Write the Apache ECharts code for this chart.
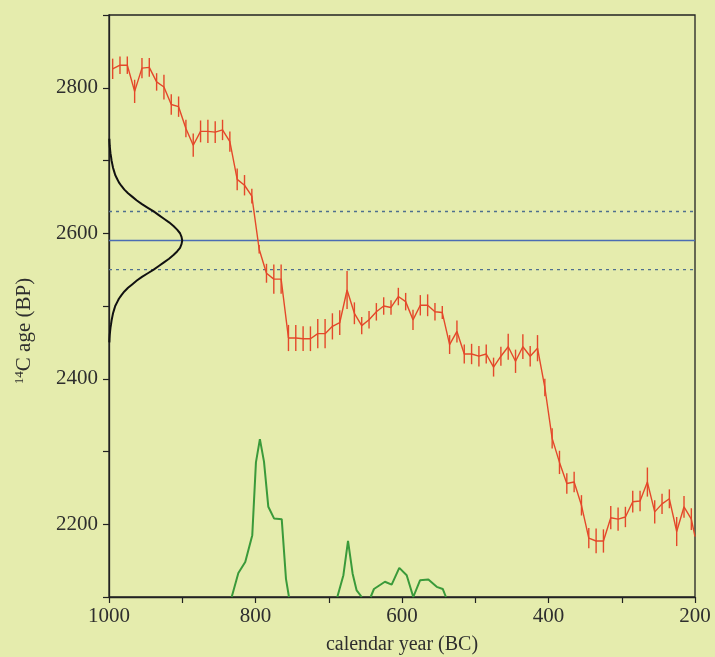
<!DOCTYPE html>
<html>
<head>
<meta charset="utf-8">
<script src="https://cdn.jsdelivr.net/npm/echarts@6/dist/echarts.min.js"></script>
<style>
html,body{margin:0;padding:0;background:#e5ecad;}
#chart{width:715px;height:657px;}
</style>
</head>
<body>
<div id="chart"></div>
<script>
// Calibration curve (decadal), calendar year BC
const redYears = [995,985,975,965,955,945,935,925,915,905,895,885,875,865,855,845,835,825,815,805,
  795,785,775,765,755,745,735,725,715,705,695,685,675,665,655,645,635,625,615,605,
  595,585,575,565,555,545,535,525,515,505,495,485,475,465,455,445,435,425,415,405,
  395,385,375,365,355,345,335,325,315,305,295,285,275,265,255,245,235,225,215,205,200];
const redValues = [2826,2831,2831,2795,2827,2828,2808,2801,2777,2774,2744,2721,2740,2740,2739,2742,2726,2674,2666,2651,
  2578,2545,2537,2537,2456,2456,2455,2455,2462,2462,2472,2477,2522,2490,2473,2481,2492,2500,2498,2513,
  2506,2481,2501,2501,2492,2491,2447,2465,2434,2434,2431,2434,2416,2431,2444,2424,2444,2431,2442,2388,
  2318,2285,2256,2258,2226,2181,2177,2177,2209,2207,2210,2231,2232,2258,2217,2228,2235,2190,2224,2207,2183];
const redErrors = [14,12,12,16,14,13,12,17,14,14,12,16,15,16,15,14,14,15,14,10,
  6,13,20,20,18,18,17,17,20,20,18,17,26,15,12,12,12,12,10,12,
  12,14,14,15,12,9,13,15,13,14,14,13,13,13,18,16,17,14,18,12,
  14,16,14,14,14,14,17,16,16,16,14,15,14,20,16,14,13,20,15,15,0];

// Calibrated probability (drawn above the 2100 baseline); null = gap
const greenYears = [832.5,823.4,814,804.4,799.4,794,788.4,782.5,774.7,764.2,758.4,754.3,null,
  688.3,680,673.7,667.4,661.9,655,null,
  642.8,638.3,623.3,614.1,603.7,593.6,584.6,575.4,564,552.6,544.4,540];
const greenValues = [2100,2133,2148,2185,2285,2317,2286,2224,2208,2207,2125,2100,null,
  2100,2130,2177,2132,2109,2100,null,
  2100,2111,2121,2117,2140,2130,2100,2123,2124,2114,2111,2100];

// Measured 14C age distribution (ages BP, width in years from the axis)
const gaussAges = [2730,2725,2720,2715,2710,2705,2700,2695,2690,2685,2680,2675,2670,2665,2660,2655,2650,2645,2640,
  2635,2630,2625,2620,2615,2610,2605,2600,2595,2590,2585,2580,2575,2570,2565,2560,2555,2550,
  2545,2540,2535,2530,2525,2520,2515,2510,2505,2500,2495,2490,2485,2480,2475,2470,2465,2460,2455,2450];
const gaussWidth = [0.5,0.7,1,1.5,2,2.8,3.5,4.5,5.5,7,8.5,11,13.5,17,21,26,32,38,45,
  53,61,68,75,82,88,93,97,99,100,99,97,93,88,82,75,68,61,
  53,45,38,32,26,21,17,13.5,11,8.5,7,5.5,4.5,3.5,2.8,2,1.5,1,0.7,0.5];

const measuredAge = 2590;
const measuredLow = 2550;
const measuredHigh = 2630;

const xMin = 200, xMax = 1000;
const yMin = 2100, yMax = 2900;

const chart = echarts.init(document.getElementById('chart'));
const font = 'Liberation Serif';
const textColor = '#2e2e2e';
const axisColor = '#222222';

const option = {
  animation: false,
  backgroundColor: '#e5ecad',
  textStyle: {fontFamily: font},
  grid: {left: 109, right: 20, top: 15, bottom: 60, show: true, borderColor: axisColor, borderWidth: 1.3,
    backgroundColor: 'transparent', containLabel: false, outerBoundsMode: 'none'},
  xAxis: {
    type: 'value', min: xMin, max: xMax, interval: 200, inverse: true,
    name: 'calendar year (BC)', nameLocation: 'middle', nameGap: 38,
    nameTextStyle: {fontFamily: font, fontSize: 20, color: textColor},
    axisLine: {show: true, lineStyle: {color: axisColor, width: 1.3}},
    axisTick: {show: true, length: 6, lineStyle: {color: axisColor, width: 1.2}},
    minorTick: {show: true, splitNumber: 2, length: 6, lineStyle: {color: axisColor, width: 1.2}},
    axisLabel: {fontFamily: font, fontSize: 21, color: textColor, margin: 9, formatter: v => String(v)},
    splitLine: {show: false}
  },
  yAxis: {
    type: 'value', min: yMin, max: yMax, interval: 100,
    name: '{s|14}{n|C age (BP)}', nameLocation: 'middle', nameGap: 74, nameRotate: 90,
    nameTextStyle: {fontFamily: font, fontSize: 21, color: textColor, padding: [0, 50, 0, 0],
      rich: {s: {fontFamily: font, fontSize: 13, color: textColor, verticalAlign: 'top', lineHeight: 22},
             n: {fontFamily: font, fontSize: 21, color: textColor, lineHeight: 22}}},
    axisLine: {show: true, lineStyle: {color: axisColor, width: 1.3}},
    axisTick: {show: true, length: 6, lineStyle: {color: axisColor, width: 1.2}},
    axisLabel: {fontFamily: font, fontSize: 21, color: textColor, margin: 11,
      formatter: v => (v % 200 === 0 ? String(v) : '')},
    splitLine: {show: false}
  },
  series: [
    {
      type: 'line', name: 'measured', symbol: 'none', silent: true,
      data: [[xMax, measuredAge], [xMin, measuredAge]],
      lineStyle: {color: '#4a6db3', width: 1.4}, z: 2
    },
    {
      type: 'line', name: 'low', symbol: 'none', silent: true,
      data: [[xMax, measuredLow], [xMin, measuredLow]],
      lineStyle: {color: '#4f6f8f', width: 1.4, type: [3, 4]}, z: 2
    },
    {
      type: 'line', name: 'high', symbol: 'none', silent: true,
      data: [[xMax, measuredHigh], [xMin, measuredHigh]],
      lineStyle: {color: '#4f6f8f', width: 1.4, type: [3, 4]}, z: 2
    },
    {
      type: 'line', name: 'gauss', symbol: 'none', silent: true,
      data: gaussAges.map((a, i) => [xMax - gaussWidth[i], a]),
      lineStyle: {color: '#111111', width: 2}, z: 4
    },
    {
      type: 'line', name: 'calibration', symbol: 'none', silent: true,
      data: redYears.map((y, i) => [y, redValues[i]]),
      lineStyle: {color: '#e4482a', width: 1.4}, z: 3
    },
    {
      type: 'custom', name: 'errors', silent: true,
      data: redYears.map((y, i) => [y, redValues[i] - redErrors[i], redValues[i] + redErrors[i]]),
      encode: {x: 0, y: [1, 2]},
      renderItem: (params, api) => {
        const p1 = api.coord([api.value(0), api.value(1)]);
        const p2 = api.coord([api.value(0), api.value(2)]);
        return {type: 'line', shape: {x1: p1[0], y1: p1[1], x2: p2[0], y2: p2[1]},
          style: {stroke: '#e4482a', lineWidth: 1.4}};
      },
      z: 3
    },
    {
      type: 'line', name: 'probability', symbol: 'none', silent: true, connectNulls: false,
      data: greenYears.map((y, i) => (y === null ? ['-', '-'] : [y, greenValues[i]])),
      lineStyle: {color: '#3a9a3a', width: 2}, z: 3
    }
  ]
};
chart.setOption(option);
</script>
</body>
</html>
